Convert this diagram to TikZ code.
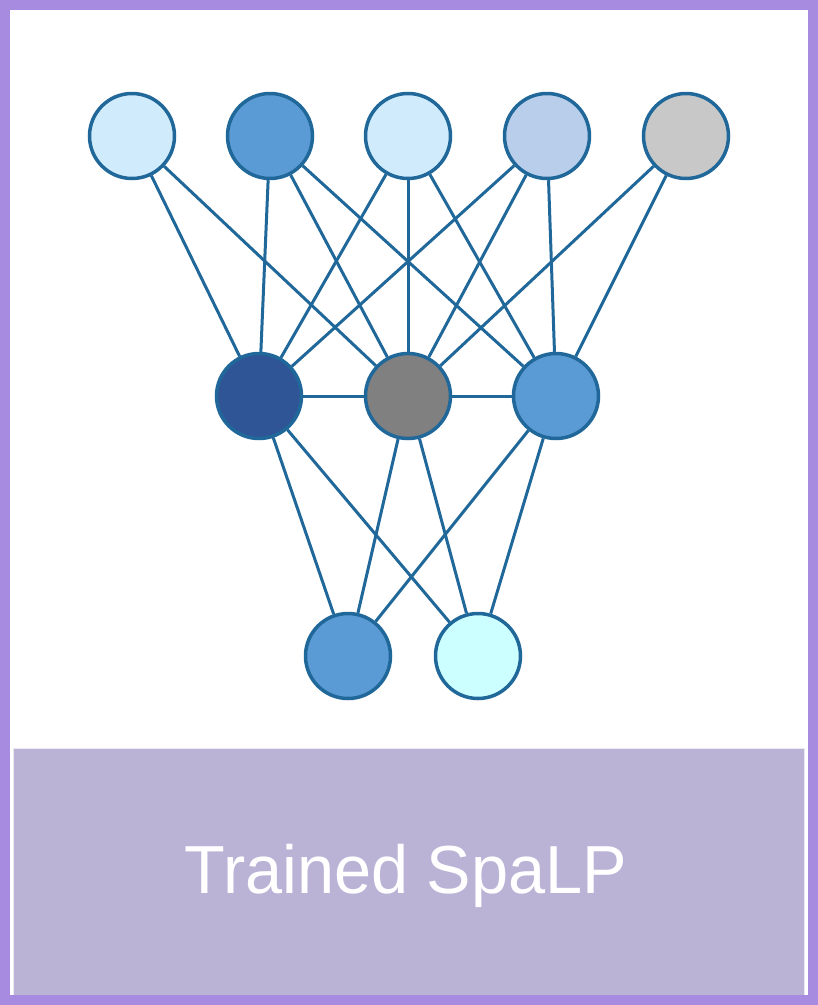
\documentclass[tikz,border=0pt]{standalone}
\usepackage{fontspec}
\setmainfont{Liberation Sans}
\definecolor{framec}{HTML}{A68BE0}
\definecolor{boxc}{HTML}{BAB3D6}
\definecolor{strokec}{HTML}{21689A}
\definecolor{lightb}{HTML}{D0EBFC}
\definecolor{midb}{HTML}{5B9BD5}
\definecolor{paleb}{HTML}{B9CEEA}
\definecolor{greyl}{HTML}{C8C8C8}
\definecolor{darkb}{HTML}{2F5597}
\definecolor{greyd}{HTML}{808080}
\definecolor{cyanl}{HTML}{CCFFFF}
\tikzset{
  neuron/.style={circle, draw=strokec, line width=3.5pt, minimum size=85pt, inner sep=0pt},
  link/.style={draw=strokec, line width=3pt}
}
\begin{document}
\begin{tikzpicture}[x=1pt,y=-1pt]
\useasboundingbox (0,0) rectangle (818,1005);
\fill[white] (0,0) rectangle (818,1005);
% bottom label box
\node[draw=white!70!boxc, line width=1pt, fill=boxc, minimum width=791pt, minimum height=252pt, inner sep=0pt, anchor=north west] (box) at (13,748) {};
\node[text=white, font=\fontsize{68}{80}\selectfont, anchor=base, xscale=0.98, inner sep=0pt] (lbl) at (406,893) {Trained SpaLP};
% outer frame
\draw[framec, line width=10pt] (5,5) rectangle (813,1000);
% neurons
\node[neuron, fill=lightb] (t1) at (132,136) {};
\node[neuron, fill=midb] (t2) at (270,136) {};
\node[neuron, fill=lightb] (t3) at (408,136) {};
\node[neuron, fill=paleb] (t4) at (547,136) {};
\node[neuron, fill=greyl] (t5) at (686,136) {};
\node[neuron, fill=darkb] (m1) at (259,396) {};
\node[neuron, fill=greyd] (m2) at (408,396) {};
\node[neuron, fill=midb] (m3) at (556,396) {};
\node[neuron, fill=midb] (b1) at (348,656) {};
\node[neuron, fill=cyanl] (b2) at (478,656) {};
% links
\draw[link] (t1) -- (m1);
\draw[link] (t1) -- (m2);
\draw[link] (t2) -- (m1);
\draw[link] (t2) -- (m2);
\draw[link] (t2) -- (m3);
\draw[link] (t3) -- (m1);
\draw[link] (t3) -- (m2);
\draw[link] (t3) -- (m3);
\draw[link] (t4) -- (m1);
\draw[link] (t4) -- (m2);
\draw[link] (t4) -- (m3);
\draw[link] (t5) -- (m2);
\draw[link] (t5) -- (m3);
\draw[link] (m1) -- (m2);
\draw[link] (m2) -- (m3);
\draw[link] (m1) -- (b1);
\draw[link] (m1) -- (b2);
\draw[link] (m2) -- (b1);
\draw[link] (m2) -- (b2);
\draw[link] (m3) -- (b1);
\draw[link] (m3) -- (b2);
\end{tikzpicture}
\end{document}
